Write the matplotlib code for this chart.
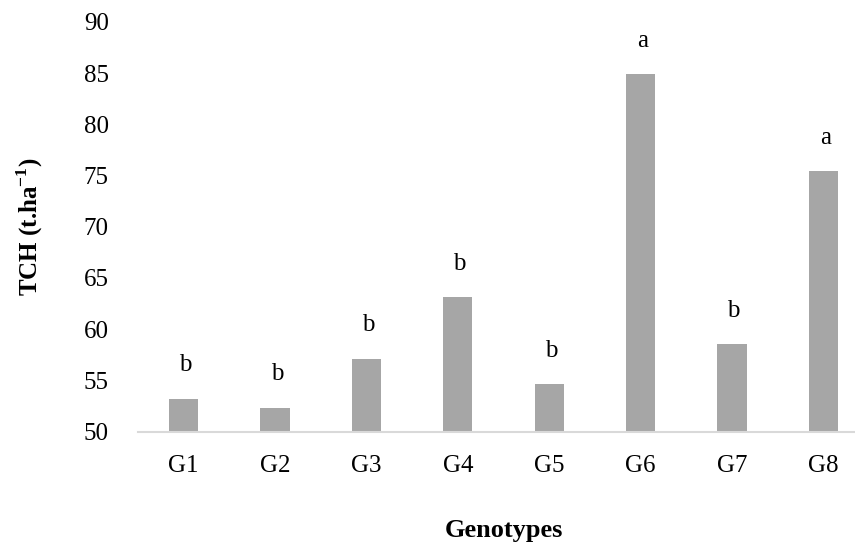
import numpy as np
import matplotlib.pyplot as plt

plt.rcParams['font.family'] = ['Liberation Serif', 'DejaVu Serif']

# Data
genotypes = ['G1', 'G2', 'G3', 'G4', 'G5', 'G6', 'G7', 'G8']
tch = [53.2, 52.3, 57.1, 63.1, 54.6, 84.9, 58.5, 75.4]
groups = ['b', 'b', 'b', 'b', 'b', 'a', 'b', 'a']

fig = plt.figure(figsize=(8.55, 5.44), dpi=100)
ax = fig.add_axes([138 / 855, (544 - 431.5) / 544, (869 - 138) / 855, (431.5 - 22) / 544])

x = np.arange(len(genotypes))
ax.bar(x, tch, width=0.32, bottom=0, color='#a6a6a6', zorder=2)

for xi, v, g in zip(x, tch, groups):
    ax.text(xi + 0.02, v + 2.7, g, ha='center', va='baseline', fontsize=18)

ax.set_ylim(50, 90)
ax.set_xlim(-0.5, len(genotypes) - 0.5)
ax.set_yticks(np.arange(50, 91, 5))
ax.set_xticks(x)
ax.set_xticklabels(genotypes)
ax.tick_params(axis='both', length=0, labelsize=18)
ax.tick_params(axis='y', pad=21)
ax.tick_params(axis='x', pad=17)

for s in ['top', 'right', 'left']:
    ax.spines[s].set_visible(False)
ax.spines['bottom'].set_color('#d9d9d9')
ax.spines['bottom'].set_linewidth(1.5)

ax.set_ylabel('TCH (t.ha$^{\\mathregular{-1}}$)', fontsize=18, fontweight='bold', labelpad=28)
ax.set_xlabel('Genotypes', fontsize=19, fontweight='bold', labelpad=30)

fig.savefig('out.png', dpi=100)
